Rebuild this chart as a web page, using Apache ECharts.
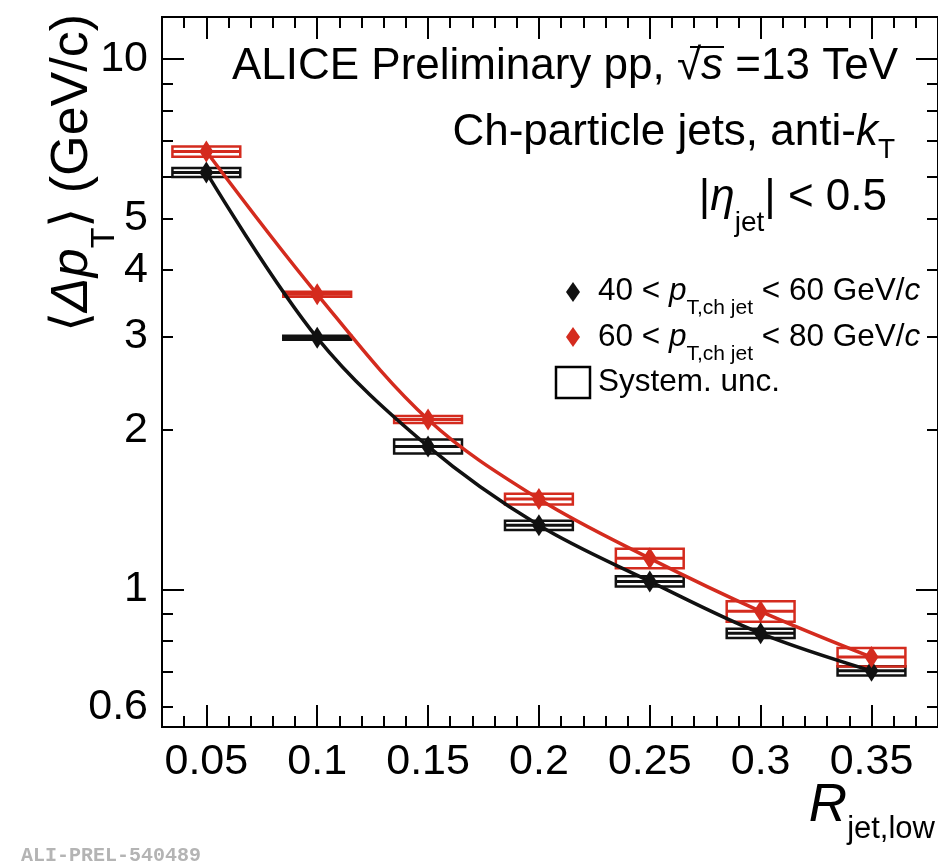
<!DOCTYPE html>
<html>
<head>
<meta charset="utf-8">
<script src="https://cdn.jsdelivr.net/npm/echarts@6/dist/echarts.min.js"></script>
<style>
  html, body { margin: 0; padding: 0; background: #fff; }
  #chart { width: 938px; height: 865px; }
</style>
</head>
<body>
<div id="chart"></div>
<script>
// R_jet,low bins
const rValues = [0.05, 0.1, 0.15, 0.2, 0.25, 0.3, 0.35];
// <Δp_T> (GeV/c), 40 < pT,ch jet < 60 GeV/c
const dpt40 = [6.11, 2.98, 1.86, 1.32, 1.035, 0.826, 0.702];
const sys40 = [0.12, 0.026, 0.057, 0.026, 0.023, 0.0165, 0.014];
// <Δp_T> (GeV/c), 60 < pT,ch jet < 80 GeV/c
const dpt60 = [6.69, 3.6, 2.09, 1.48, 1.144, 0.909, 0.745];
const sys60 = [0.147, 0.039, 0.032, 0.035, 0.048, 0.04, 0.03];
// half width of the systematic boxes along R
const sysHalfWidth = 0.0153;

// axis ticks / labels
const xMajorTicks = [0.05, 0.1, 0.15, 0.2, 0.25, 0.3, 0.35];
const xMinorTicks = [0.03, 0.04, 0.06, 0.07, 0.08, 0.09, 0.11, 0.12, 0.13, 0.14,
  0.16, 0.17, 0.18, 0.19, 0.21, 0.22, 0.23, 0.24, 0.26, 0.27, 0.28, 0.29,
  0.31, 0.32, 0.33, 0.34, 0.36, 0.37];
const yLabels = [0.6, 1, 2, 3, 4, 5, 10];
const yMajorTicks = [1, 10];
const yMinorTicks = [0.6, 0.7, 0.8, 0.9, 2, 3, 4, 5, 6, 7, 8, 9];

const FONT = '"Liberation Sans", Arimo, Helvetica, Arial, sans-serif';
const BLACK = '#111111';
const RED = '#d42b1e';

// rich-text token, top aligned; pad pushes a subscript down
function rs(size, italic, pad) {
  const s = {
    fontSize: size, fontFamily: FONT,
    fontStyle: italic ? 'italic' : 'normal',
    verticalAlign: 'top', color: '#000'
  };
  if (pad) s.padding = [pad, 0, 0, 0];
  return s;
}

function xAxisDef(pos, ticks, len, showLabel) {
  return {
    type: 'value', position: pos, min: 0.03, max: 0.38,
    axisLine: { show: true, onZero: false, lineStyle: { color: '#000', width: 2 } },
    axisTick: { show: true, inside: true, length: len, customValues: ticks,
      lineStyle: { color: '#000', width: 2 } },
    axisLabel: showLabel ? {
      customValues: ticks, formatter: v => String(v), margin: 14,
      fontSize: 43, fontFamily: FONT, color: '#000'
    } : { show: false },
    splitLine: { show: false }
  };
}

function yAxisDef(pos, ticks, len, showLabel) {
  return {
    type: 'log', logBase: 10, position: pos, min: 0.55, max: 12,
    axisLine: { show: true, onZero: false, lineStyle: { color: '#000', width: 2 } },
    axisTick: { show: true, inside: true, length: len, customValues: ticks,
      lineStyle: { color: '#000', width: 2 } },
    axisLabel: showLabel ? {
      customValues: yLabels, formatter: v => String(v), margin: 14,
      fontSize: 43, fontFamily: FONT, color: '#000'
    } : { show: false },
    minorTick: { show: false },
    splitLine: { show: false }
  };
}

// systematic uncertainty boxes
function sysBox(color) {
  return function (params, api) {
    const x = api.value(0), y = api.value(1), e = api.value(2);
    const p1 = api.coord([x - sysHalfWidth, y + e]);
    const p2 = api.coord([x + sysHalfWidth, y - e]);
    const pc = api.coord([x, y]);
    return {
      type: 'group',
      children: [
        { type: 'rect',
          shape: { x: p1[0], y: p1[1], width: p2[0] - p1[0], height: p2[1] - p1[1] },
          style: { fill: 'none', stroke: color, lineWidth: 2.5 } },
        { type: 'line',
          shape: { x1: p1[0], y1: pc[1], x2: p2[0], y2: pc[1] },
          style: { stroke: color, lineWidth: 3 } }
      ]
    };
  };
}

const chart = echarts.init(document.getElementById('chart'));

const option = {
  animation: false,
  backgroundColor: '#fff',
  grid: { left: 162, top: 17, width: 776, height: 710 },
  xAxis: [
    xAxisDef('bottom', xMajorTicks, 22, true),
    xAxisDef('bottom', xMinorTicks, 11, false),
    xAxisDef('top', xMajorTicks, 22, false),
    xAxisDef('top', xMinorTicks, 11, false)
  ],
  yAxis: [
    yAxisDef('left', yMajorTicks, 22, true),
    yAxisDef('left', yMinorTicks, 11, false),
    yAxisDef('right', yMajorTicks, 22, false),
    yAxisDef('right', yMinorTicks, 11, false)
  ],
  series: [
    {
      name: 'sys40', type: 'custom', renderItem: sysBox(BLACK), z: 2,
      data: rValues.map((r, i) => [r, dpt40[i], sys40[i]]),
      encode: { x: 0, y: 1 }
    },
    {
      name: 'sys60', type: 'custom', renderItem: sysBox(RED), z: 2,
      data: rValues.map((r, i) => [r, dpt60[i], sys60[i]]),
      encode: { x: 0, y: 1 }
    },
    {
      name: '40-60', type: 'line', z: 3, smooth: 0.35,
      data: rValues.map((r, i) => [r, dpt40[i]]),
      symbol: 'diamond', symbolSize: [14, 22],
      lineStyle: { color: BLACK, width: 3.5 },
      itemStyle: { color: BLACK }
    },
    {
      name: '60-80', type: 'line', z: 3, smooth: 0.35,
      data: rValues.map((r, i) => [r, dpt60[i]]),
      symbol: 'diamond', symbolSize: [14, 22],
      lineStyle: { color: RED, width: 3.5 },
      itemStyle: { color: RED }
    }
  ],
  graphic: [
    // header
    { type: 'text', x: 898, y: 45, z: 10,
      style: { text: '{n|ALICE Preliminary pp, √}{i|s}{n| =13 TeV}', align: 'right', verticalAlign: 'top',
        rich: { n: rs(44), i: rs(44, true) } } },
    // bar of the square root
    { type: 'line', z: 10, shape: { x1: 690, y1: 47, x2: 724, y2: 47 },
      style: { stroke: '#000', lineWidth: 2 } },
    { type: 'text', x: 895, y: 111, z: 10,
      style: { text: '{n|Ch-particle jets, anti-}{i|k}{s|T}', align: 'right', verticalAlign: 'top',
        rich: { n: rs(44), i: rs(44, true), s: rs(28, false, 25) } } },
    { type: 'text', x: 887, y: 176, z: 10,
      style: { text: '{n||}{i|η}{s|jet}{n|| < 0.5}', align: 'right', verticalAlign: 'top',
        rich: { n: rs(44), i: rs(44, true), s: rs(28, false, 33) } } },
    // legend
    { type: 'polygon', z: 10, shape: { points: [[573, 282], [580, 292], [573, 302], [566, 292]] },
      style: { fill: BLACK } },
    { type: 'polygon', z: 10, shape: { points: [[573, 327], [580, 337], [573, 347], [566, 337]] },
      style: { fill: RED } },
    { type: 'rect', z: 10, shape: { x: 556, y: 367, width: 34, height: 31 },
      style: { fill: 'none', stroke: '#000', lineWidth: 2.5 } },
    { type: 'text', x: 598, y: 275, z: 10,
      style: { text: '{n|40 < }{i|p}{s|T,ch jet}{n| < 60 GeV/}{i|c}', verticalAlign: 'top',
        rich: { n: rs(31.5), i: rs(31.5, true), s: rs(21, false, 23) } } },
    { type: 'text', x: 598, y: 321, z: 10,
      style: { text: '{n|60 < }{i|p}{s|T,ch jet}{n| < 80 GeV/}{i|c}', verticalAlign: 'top',
        rich: { n: rs(31.5), i: rs(31.5, true), s: rs(21, false, 23) } } },
    { type: 'text', x: 598, y: 366, z: 10,
      style: { text: '{n|System. unc.}', verticalAlign: 'top',
        rich: { n: rs(31.5) } } },
    // y axis title
    { type: 'text', x: 47, y: 14, rotation: Math.PI / 2, z: 10,
      style: { text: '{n|⟨}{i|Δp}{s|T}{n|⟩ (GeV/c)}', align: 'right', verticalAlign: 'top',
        rich: { n: rs(52), i: rs(52, true), s: rs(34, false, 41) } } },
    // x axis title
    { type: 'text', x: 935, y: 780, z: 10,
      style: { text: '{i|R}{s|jet,low}', align: 'right', verticalAlign: 'top',
        rich: { i: rs(53, true), s: rs(31, false, 34) } } },
    // figure id
    { type: 'text', x: 21, y: 856, z: 10,
      style: { text: 'ALI-PREL-540489', verticalAlign: 'middle',
        font: 'bold 20px "Liberation Mono", "DejaVu Sans Mono", monospace', fill: '#b4b4b4' } }
  ]
};

chart.setOption(option);
</script>
</body>
</html>
